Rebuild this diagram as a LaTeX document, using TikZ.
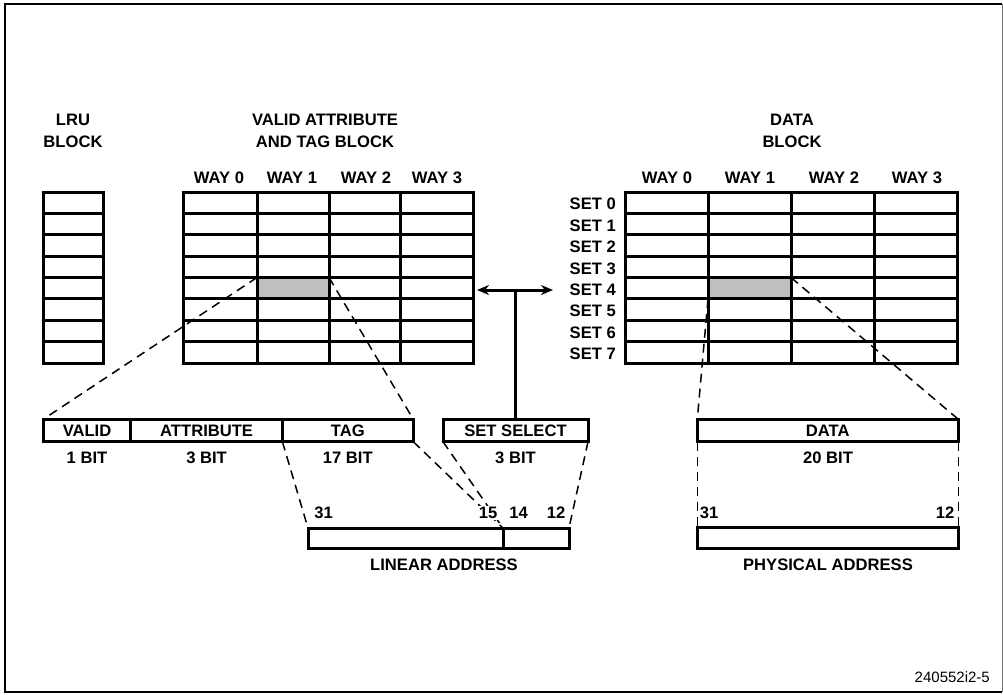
\documentclass[tikz,border=0pt]{standalone}
\usepackage{fontspec}
\setmainfont{Liberation Sans}
\usetikzlibrary{arrows.meta}
\begin{document}
\begin{tikzpicture}[x=1pt,y=-1pt,
  lbl/.style={font=\bfseries\fontsize{16.6}{22}\selectfont, inner sep=0pt, align=center},
  field/.style={draw, line width=3pt, inner sep=0pt, outer sep=0pt, minimum height=22.4pt, font=\bfseries\fontsize{16.6}{20}\selectfont},
  addr/.style={draw, line width=3pt, inner sep=0pt, outer sep=0pt, minimum height=20.5pt},
  cut/.style={line width=1.5pt, dash pattern=on 9pt off 6pt},
  gridline/.style={line width=3pt, line cap=rect},
  hit/.style={fill=black!25, draw=none, inner sep=0pt, outer sep=0pt, minimum height=21.4pt},
  bus/.style={line width=3pt},
  num/.style={font=\bfseries\fontsize{16.6}{20}\selectfont, inner sep=1.5pt},
  setlbl/.style={font=\bfseries\fontsize{16.6}{20}\selectfont, inner sep=0pt, anchor=east}]
\useasboundingbox (0,0) rectangle (1003,694);
% frame
\draw[line width=2.4pt] (1002,4) -- (5,4) -- (5,692) -- (1002,692);
\draw[line width=1pt, black!55] (1002,4) -- (1002,692);

% headings
\node[lbl] (lruhead) at (73,131) {LRU\\BLOCK};
\node[lbl] (taghead) at (325,131) {VALID ATTRIBUTE\\AND TAG BLOCK};
\node[lbl] (datahead) at (792,131) {DATA\\BLOCK};

% way labels
\foreach \x/\n in {219/0,292/1,366/2,437/3} \node[lbl] (tway\n) at (\x,178) {WAY \n};
\foreach \x/\n in {667/0,750/1,834/2,917/3} \node[lbl] (dway\n) at (\x,178) {WAY \n};

% selected cells
\node[hit, minimum width=72pt] (tagcell) at (293,288.2) {};
\node[hit, minimum width=83pt] (datacell) at (749.5,288.2) {};

% LRU block
\foreach \i in {0,...,8} \draw[gridline] (43,{192+\i*21.375}) -- (103,{192+\i*21.375});
\foreach \x in {43,103} \draw[gridline] (\x,192) -- (\x,363);
% tag block
\foreach \i in {0,...,8} \draw[gridline] (183,{192+\i*21.375}) -- (473,{192+\i*21.375});
\foreach \x in {183,257,329,400,473} \draw[gridline] (\x,192) -- (\x,363);
% data block
\foreach \i in {0,...,8} \draw[gridline] (625,{192+\i*21.375}) -- (957,{192+\i*21.375});
\foreach \x in {625,708,791,874,957} \draw[gridline] (\x,192) -- (\x,363);

% set labels
\foreach \i in {0,...,7} \node[setlbl] (set\i) at (616,{192+\i*21.375+12.2}) {SET \i};

% fields
\node[field, minimum width=87.7pt] (valid) at (87.05,430.5) {VALID};
\node[field, minimum width=151.5pt] (attr) at (206.65,430.5) {ATTRIBUTE};
\node[field, minimum width=130.9pt] (tag) at (347.85,430.5) {TAG};
\node[field, minimum width=145pt] (setsel) at (515.5,430.5) {SET SELECT};
\node[field, minimum width=261pt] (data) at (827.8,430.5) {DATA};

% bit counts
\node[lbl] (b1) at (87,458) {1 BIT};
\node[lbl] (b3) at (206.6,458) {3 BIT};
\node[lbl] (b17) at (347.8,458) {17 BIT};
\node[lbl] (b3s) at (515.5,458) {3 BIT};
\node[lbl] (b20) at (828,458) {20 BIT};

% addresses
\node[addr, minimum width=195pt] (lin1) at (405.5,538.3) {};
\node[addr, minimum width=66pt] (lin2) at (536,538.3) {};
\node[addr, minimum width=261pt] (phys) at (827.8,537.8) {};
\node[lbl] (linlbl) at (444,565) {LINEAR ADDRESS};
\node[lbl] (physlbl) at (828,565) {PHYSICAL ADDRESS};

% selection bus
\coordinate (arrL) at (477,290);
\coordinate (arrR) at (553,290);
\coordinate (arrM) at (setsel.north |- arrL);
\draw[bus, {Stealth[length=12pt,width=10pt]}-{Stealth[length=12pt,width=10pt]}] (arrL) -- (arrR);
\draw[bus] (arrM) -- (setsel.north);

% dashed expansion lines
\draw[cut] (tagcell.north west) -- (valid.north west);
\draw[cut] (tagcell.north east) -- (tag.north east);
\draw[cut] (datacell.south west) -- (data.north west);
\draw[cut] (datacell.north east) -- (data.north east);
\draw[cut] (tag.south west) -- (lin1.north west);
\draw[cut] (tag.south east) -- (lin1.north east);
\draw[cut] (setsel.south west) -- (lin1.north east);
\draw[cut] (setsel.south east) -- (lin2.north east);
\draw[cut] (data.south west) -- (phys.north west);
\draw[cut] (data.south east) -- (phys.north east);

% bit numbers
\node[num] (n31) at (323.5,513) {31};
\node[num, fill=white] (n15) at (488,513) {15};
\node[num] (n14) at (518.6,513) {14};
\node[num] (n12) at (556,513) {12};
\node[num] (p31) at (709,513) {31};
\node[num] (p12) at (945,513) {12};

% figure number
\node[font=\fontsize{15}{18}\selectfont, inner sep=0pt, anchor=east] (fignum) at (990,677) {240552i2-5};
\end{tikzpicture}
\end{document}
